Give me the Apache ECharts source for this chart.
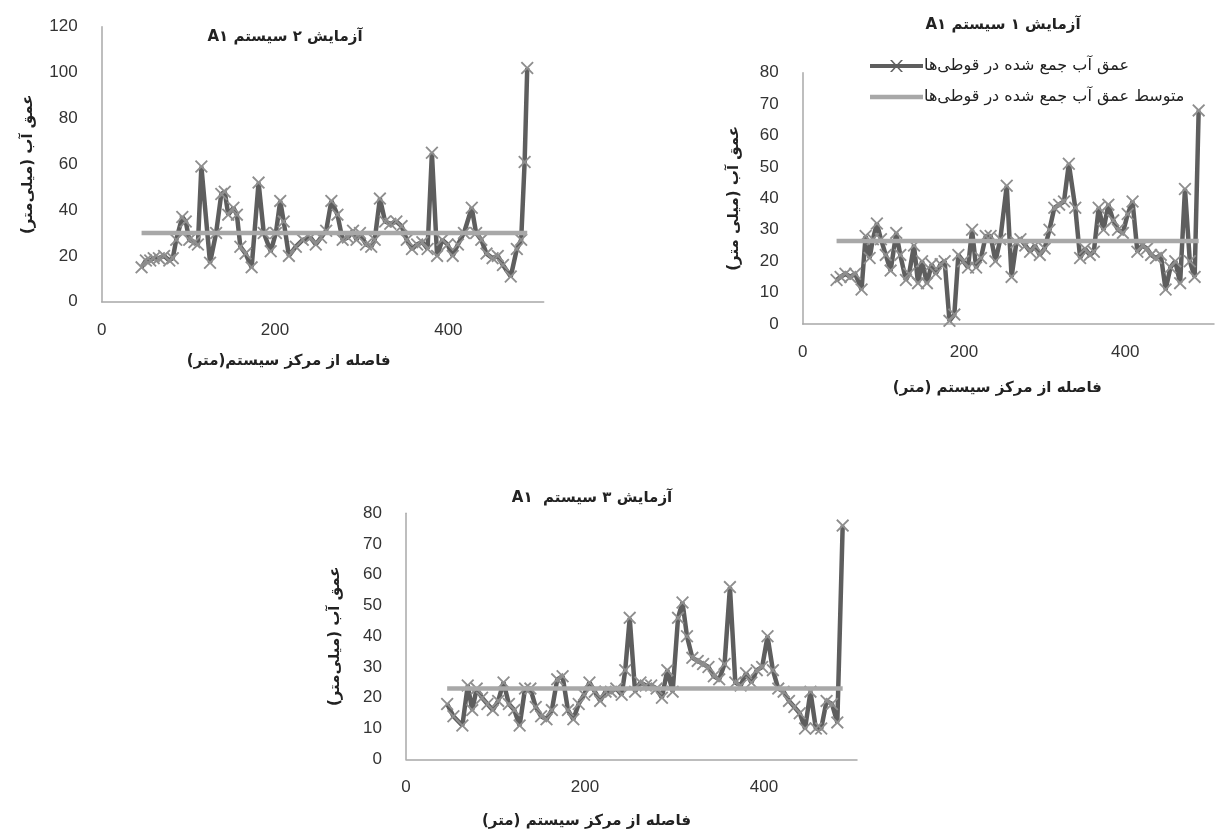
<!DOCTYPE html>
<html><head><meta charset="utf-8">
<script src="https://cdn.jsdelivr.net/npm/echarts@6/dist/echarts.min.js"></script>
<style>html,body{margin:0;padding:0;background:#fff}#c{width:1217px;height:830px}</style>
</head><body><div id="c" dir="rtl"></div>
<script>
// ---- Test 2 (top-left) ----
const test2X = [46,51,56,60,66,72,78,82,86,93,97,101,107,111,115,125,132,138,142,146,152,156,160,166,173,181,187,195,201,206,210,216,224,232,241,247,253,259,265,272,278,284,290,294,298,305,311,315,321,327,333,340,346,352,358,364,370,376,381,387,393,399,405,411,418,427,432,438,444,451,457,463,472,479,484,488,491];
const test2Y = [15,18,18,19,19,20,18,19,27,37,35,27,26,25,59,17,30,47,48,38,41,38,24,21,15,52,30,22,30,44,35,20,24,27,28,25,28,31,44,38,27,28,31,27,30,25,24,27,45,35,34,35,33,27,23,25,26,23,65,20,27,25,20,25,30,41,30,27,21,19,20,16,11,23,27,61,102];
const test2Mean = 30;
// ---- Test 1 (top-right) ----
const test1X = [42,47,53,59,65,73,78,83,87,92,97,103,109,116,121,128,132,138,143,148,154,160,165,171,176,182,188,193,199,205,210,215,221,227,233,239,245,253,259,265,270,276,282,288,294,300,306,312,318,324,330,338,344,350,356,361,367,373,379,385,391,397,403,409,415,421,427,432,438,444,450,456,462,468,474,480,486,491];
const test1Y = [14,15,16,15,16,11,28,21,27,32,27,22,17,29,22,14,16,25,13,20,13,19,16,19,20,1,3,22,20,18,30,18,21,28,28,20,27,44,15,26,27,25,23,25,22,24,30,37,38,39,51,37,21,24,22,23,37,30,38,33,30,29,35,39,23,25,24,22,21,22,11,18,20,13,43,20,15,68];
const test1Mean = 26.4;
// ---- Test 3 (bottom) ----
const test3X = [46,53,63,69,74,79,85,91,97,103,109,115,121,127,133,139,145,151,157,163,169,175,181,187,193,199,205,211,217,223,229,235,241,245,250,256,262,268,274,280,286,292,298,304,309,314,320,326,332,338,344,350,356,362,368,374,380,386,392,398,404,410,416,422,428,434,440,446,452,458,464,470,476,482,488];
const test3Y = [18,14,11,24,16,23,20,18,16,19,25,18,16,11,23,23,17,14,13,16,26,27,16,13,18,21,25,22,19,22,22,23,21,29,46,22,25,24,24,23,20,29,22,46,51,40,33,32,31,30,27,26,31,56,25,24,28,25,29,30,40,29,23,22,19,17,15,10,22,10,10,19,18,12,76];
const test3Mean = 23;

const xTicks = [0, 200, 400];
const xMax = 510;

const titles = ['آزمایش ۲ سیستم A۱', 'آزمایش ۱ سیستم A۱', 'آزمایش ۳ سیستم  A۱'];
const yNames = ['عمق آب (میلی‌متر)', 'عمق آب (میلی متر)', 'عمق آب (میلی‌متر)'];
const xNames = ['فاصله از مرکز سیستم(متر)', 'فاصله از مرکز سیستم (متر)', 'فاصله از مرکز سیستم (متر)'];
const legendNames = ['عمق آب جمع شده در قوطی‌ها', 'متوسط عمق آب جمع شده در قوطی‌ها'];

const FA = '"DejaVu Sans", sans-serif';
const NUM = '"Liberation Sans", Arial, sans-serif';
const crossPath = 'path://M1,0 L5,4 L9,0 L10,1 L6,5 L10,9 L9,10 L5,6 L1,10 L0,9 L4,5 L0,1 Z';
const legendLineCross = 'path://M0,5 L53,5 L53,9 L0,9 Z M20,1 L22,1 L33,13 L31,13 Z M31,1 L33,1 L22,13 L20,13 Z';
const legendLine = 'path://M0,0 L53,0 L53,4.5 L0,4.5 Z';

function pts(xs, ys) { return xs.map((v, i) => [v, ys[i]]); }
function meanPts(xs, m) { return [[xs[0], m], [xs[xs.length - 1], m]]; }

function xAxis(grid, max, gap, shift) {
  return {
    type: 'value', gridIndex: grid, min: 0, max: max, interval: 200,
    name: xNames[grid], nameLocation: 'middle', nameGap: gap,
    nameTextStyle: { fontFamily: FA, fontWeight: 'bold', fontSize: 15, color: '#222', padding: [0, shift, 0, 0] },
    axisLine: { show: true, onZero: false, lineStyle: { color: '#a8a8a8', width: 1.5 } },
    axisTick: { show: false }, splitLine: { show: false },
    axisLabel: { margin: 20, fontFamily: NUM, fontSize: 17, color: '#333',
      formatter: v => (xTicks.indexOf(v) >= 0 ? String(v) : '') }
  };
}
function yAxis(grid, max, interval, gap) {
  return {
    type: 'value', gridIndex: grid, min: 0, max: max, interval: interval,
    name: yNames[grid], nameLocation: 'middle', nameGap: gap,
    nameTextStyle: { fontFamily: FA, fontWeight: 'bold', fontSize: 15, color: '#222' },
    axisLine: { show: true, lineStyle: { color: '#a8a8a8', width: 1.5 } },
    axisTick: { show: false }, splitLine: { show: false },
    axisLabel: { margin: 24, fontFamily: NUM, fontSize: 17, color: '#333' }
  };
}
function dataSeries(name, grid, d) {
  return { name: name, type: 'line', xAxisIndex: grid, yAxisIndex: grid, data: d,
    symbol: crossPath, symbolSize: 13, showSymbol: true, animation: false,
    itemStyle: { color: '#8e8e8e' }, lineStyle: { color: '#5e5e5e', width: 4.5 }, z: 2 };
}
function meanSeries(name, grid, d) {
  return { name: name, type: 'line', xAxisIndex: grid, yAxisIndex: grid, data: d,
    symbol: 'none', animation: false,
    itemStyle: { color: '#a8a8a8' }, lineStyle: { color: '#a8a8a8', width: 4.5 }, z: 3 };
}

const chart = echarts.init(document.getElementById('c'));
chart.setOption({
  backgroundColor: '#fff',
  animation: false,
  graphic: [
    { type: 'text', x: 285, y: 37, style: { text: titles[0], font: 'bold 15px ' + FA, fill: '#222', align: 'center', verticalAlign: 'middle' } },
    { type: 'text', x: 1003, y: 25, style: { text: titles[1], font: 'bold 15px ' + FA, fill: '#222', align: 'center', verticalAlign: 'middle' } },
    { type: 'text', x: 592, y: 498, style: { text: titles[2], font: 'bold 15px ' + FA, fill: '#222', align: 'center', verticalAlign: 'middle' } }
  ],
  legend: {
    data: [
      { name: legendNames[0], icon: legendLineCross, itemStyle: { color: '#5e5e5e' } },
      { name: legendNames[1], icon: legendLine, itemStyle: { color: '#a8a8a8' } }
    ],
    orient: 'vertical', left: 865, top: 53,
    itemWidth: 53, itemHeight: 14, itemGap: 15, symbolKeepAspect: true,
    textStyle: { fontFamily: FA, fontSize: 16, color: '#222', padding: [0, 0, 0, -4] }
  },
  grid: [
    { left: 101.7, top: 26.8, width: 442, height: 274.9 },
    { left: 802.7, top: 72.7, width: 430, height: 251.3 },
    { left: 406, top: 513.3, width: 451, height: 246 }
  ],
  xAxis: [ xAxis(0, xMax, 52, 68), xAxis(1, xMax, 57, 22), xAxis(2, 504, 54, 90) ],
  yAxis: [ yAxis(0, 120, 20, 66), yAxis(1, 80, 10, 61), yAxis(2, 80, 10, 63) ],
  series: [
    dataSeries('آزمایش ۲', 0, pts(test2X, test2Y)),
    meanSeries('متوسط آزمایش ۲', 0, meanPts(test2X, test2Mean)),
    dataSeries(legendNames[0], 1, pts(test1X, test1Y)),
    meanSeries(legendNames[1], 1, meanPts(test1X, test1Mean)),
    dataSeries('آزمایش ۳', 2, pts(test3X, test3Y)),
    meanSeries('متوسط آزمایش ۳', 2, meanPts(test3X, test3Mean))
  ]
});
</script></body></html>
